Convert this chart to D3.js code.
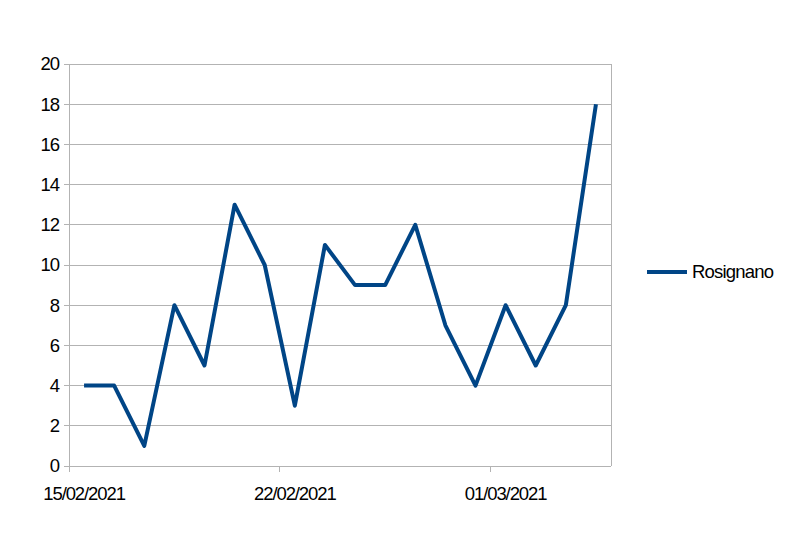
<!DOCTYPE html>
<html><head><meta charset="utf-8">
<script src="https://cdn.jsdelivr.net/npm/d3@7"></script>
<style>body{margin:0;background:#fff}svg{display:block}</style>
</head><body>
<script>
const dates = ["15/02/2021","16/02/2021","17/02/2021","18/02/2021","19/02/2021","20/02/2021","21/02/2021","22/02/2021","23/02/2021","24/02/2021","25/02/2021","26/02/2021","27/02/2021","28/02/2021","01/03/2021","02/03/2021","03/03/2021","04/03/2021"];
const rosignano = [4,4,1,8,5,13,10,3,11,9,9,12,7,4,8,5,8,18];
const yTicks = [0,2,4,6,8,10,12,14,16,18,20];
const xLabels = ["15/02/2021","22/02/2021","01/03/2021"];
const seriesName = "Rosignano";

(function(){
const W = 788, H = 543;
const pL = 69, pR = 611, pT = 64, pB = 466;
const svg = d3.select("body").append("svg").attr("width", W).attr("height", H);

const x = d3.scaleBand().domain(dates).range([pL, pR]);
const y = d3.scaleLinear().domain([0, 20]).range([pB, pT]);
const font = "'Liberation Sans', Arial, sans-serif";

svg.append("g").selectAll("line").data(yTicks).join("line")
  .attr("x1", pL - 5).attr("x2", pR)
  .attr("y1", d => y(d)).attr("y2", d => y(d))
  .attr("stroke", "#b3b3b3").attr("stroke-width", 1).attr("shape-rendering", "crispEdges");
svg.append("line").attr("x1", pL).attr("x2", pL).attr("y1", pT).attr("y2", pB + 6)
  .attr("stroke", "#b3b3b3").attr("shape-rendering", "crispEdges");
svg.append("line").attr("x1", pR).attr("x2", pR).attr("y1", pT).attr("y2", pB)
  .attr("stroke", "#b3b3b3").attr("shape-rendering", "crispEdges");
const xTickIdx = [0, 7, 14];
svg.append("g").selectAll("line").data(xTickIdx).join("line")
  .attr("x1", i => x(dates[i])).attr("x2", i => x(dates[i]))
  .attr("y1", pB).attr("y2", pB + 6)
  .attr("stroke", "#b3b3b3").attr("shape-rendering", "crispEdges");

svg.append("g").selectAll("text").data(yTicks).join("text")
  .attr("x", 59).attr("y", d => y(d)).attr("dy", "0.35em")
  .attr("text-anchor", "end").attr("font-family", font).attr("font-size", 18.5)
  .attr("letter-spacing", "-1").attr("fill", "#000").text(d => d);

svg.append("g").selectAll("text").data(xLabels).join("text")
  .attr("x", d => x(d) + x.bandwidth() / 2).attr("y", 500)
  .attr("text-anchor", "middle").attr("font-family", font).attr("font-size", 18.5)
  .attr("letter-spacing", "-1.1").attr("fill", "#000").text(d => d);

const line = d3.line().x((d, i) => x(dates[i]) + x.bandwidth() / 2).y(d => y(d));
svg.append("path").datum(rosignano).attr("d", line)
  .attr("fill", "none").attr("stroke", "#004586").attr("stroke-width", 4)
  .attr("stroke-linejoin", "round");

svg.append("line").attr("x1", 647).attr("x2", 687).attr("y1", 272).attr("y2", 272)
  .attr("stroke", "#004586").attr("stroke-width", 4);
svg.append("text").attr("x", 692).attr("y", 272).attr("dy", "0.35em")
  .attr("font-family", font).attr("font-size", 18.5).attr("letter-spacing", "-0.8")
  .attr("fill", "#000").text(seriesName);
})();
</script>
</body></html>
